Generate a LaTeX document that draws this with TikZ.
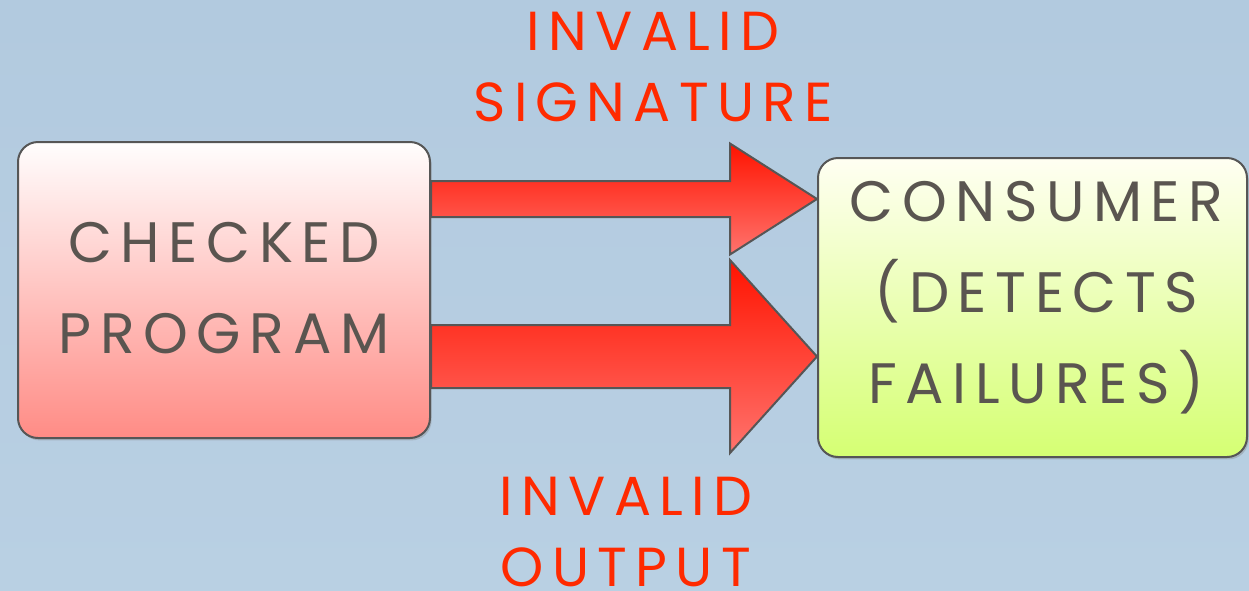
\documentclass[tikz,border=0pt]{standalone}
\usepackage{fontspec}
\setmainfont{Poppins}[LetterSpace=15]
\usepackage{tikz}
\usetikzlibrary{calc,shadows}
\usepackage{xcolor}
\definecolor{bgtop}{HTML}{B2CADF}
\definecolor{bgbot}{HTML}{B9D0E3}
\definecolor{inkgrey}{HTML}{5A5550}
\definecolor{edgegrey}{HTML}{565656}
\definecolor{warnred}{HTML}{FF2A00}
\newcommand{\headlen}{87}
\newcommand{\fatarrow}[5]{
    \coordinate (#3-tail) at (#1.east|-#3);
    \coordinate (#3-tip) at (#2.west|-#3);
    \draw[fatarrow] ($(#3-tail)+(0,#4)$) -- ($(#3-tip)+(-\headlen,#4)$) -- ($(#3-tip)+(-\headlen,#5)$) -- (#3-tip) -- ($(#3-tip)+(-\headlen,-#5)$) -- ($(#3-tip)+(-\headlen,-#4)$) -- ($(#3-tail)+(0,-#4)$) -- cycle;
}
\tikzset{
    box/.style={draw=edgegrey, line width=1pt, rounded corners=10pt,
        drop shadow={opacity=0.35, shadow xshift=0.8pt, shadow yshift=-1.2pt}},
    boxtext/.style={align=center, text=inkgrey, font=\fontsize{28.5}{45.5}\selectfont},
    fatarrow/.style={draw=edgegrey, line width=1pt, top color=red!85!orange, bottom color=red!55!white!95!orange},
    redlabel/.style={text=warnred, align=center, font=\fontsize{27.5}{35.5}\selectfont}
}

\begin{document}
\begin{tikzpicture}[x=0.5pt,y=-0.5pt]

    \useasboundingbox (0,0) rectangle (1249,590);
    \fill[top color=bgtop, bottom color=bgbot] (0,0) rectangle (1249,590);

    \node[box, minimum width=206pt, minimum height=148pt,
        top color=white!90!red!5, bottom color=red!45!white!95!orange] (prog) at (224,290) {};
    \node[box, minimum width=214.5pt, minimum height=149.5pt,
        top color=white!95!yellow, bottom color=green!30!yellow!55!white] (cons) at (1032.5,307.5) {};

    \node[boxtext] (progtext) at ($(prog)+(0,-2)$) {CHECKED\\PROGRAM};
    \node[boxtext] (constext) at ($(cons)+(4,-10)$) {CONSUMER\\(DETECTS\\FAILURES)};

    \coordinate (sig) at (0,199);
    \coordinate (out) at (0,356.5);

    \fatarrow{prog}{cons}{sig}{18}{55.5}
    \fatarrow{prog}{cons}{out}{31.5}{96.5}

    \node[redlabel] (siglabel) at (653,67) {INVALID\\SIGNATURE};
    \node[redlabel] (outlabel) at (626,532) {INVALID\\OUTPUT};

\end{tikzpicture}
\end{document}
